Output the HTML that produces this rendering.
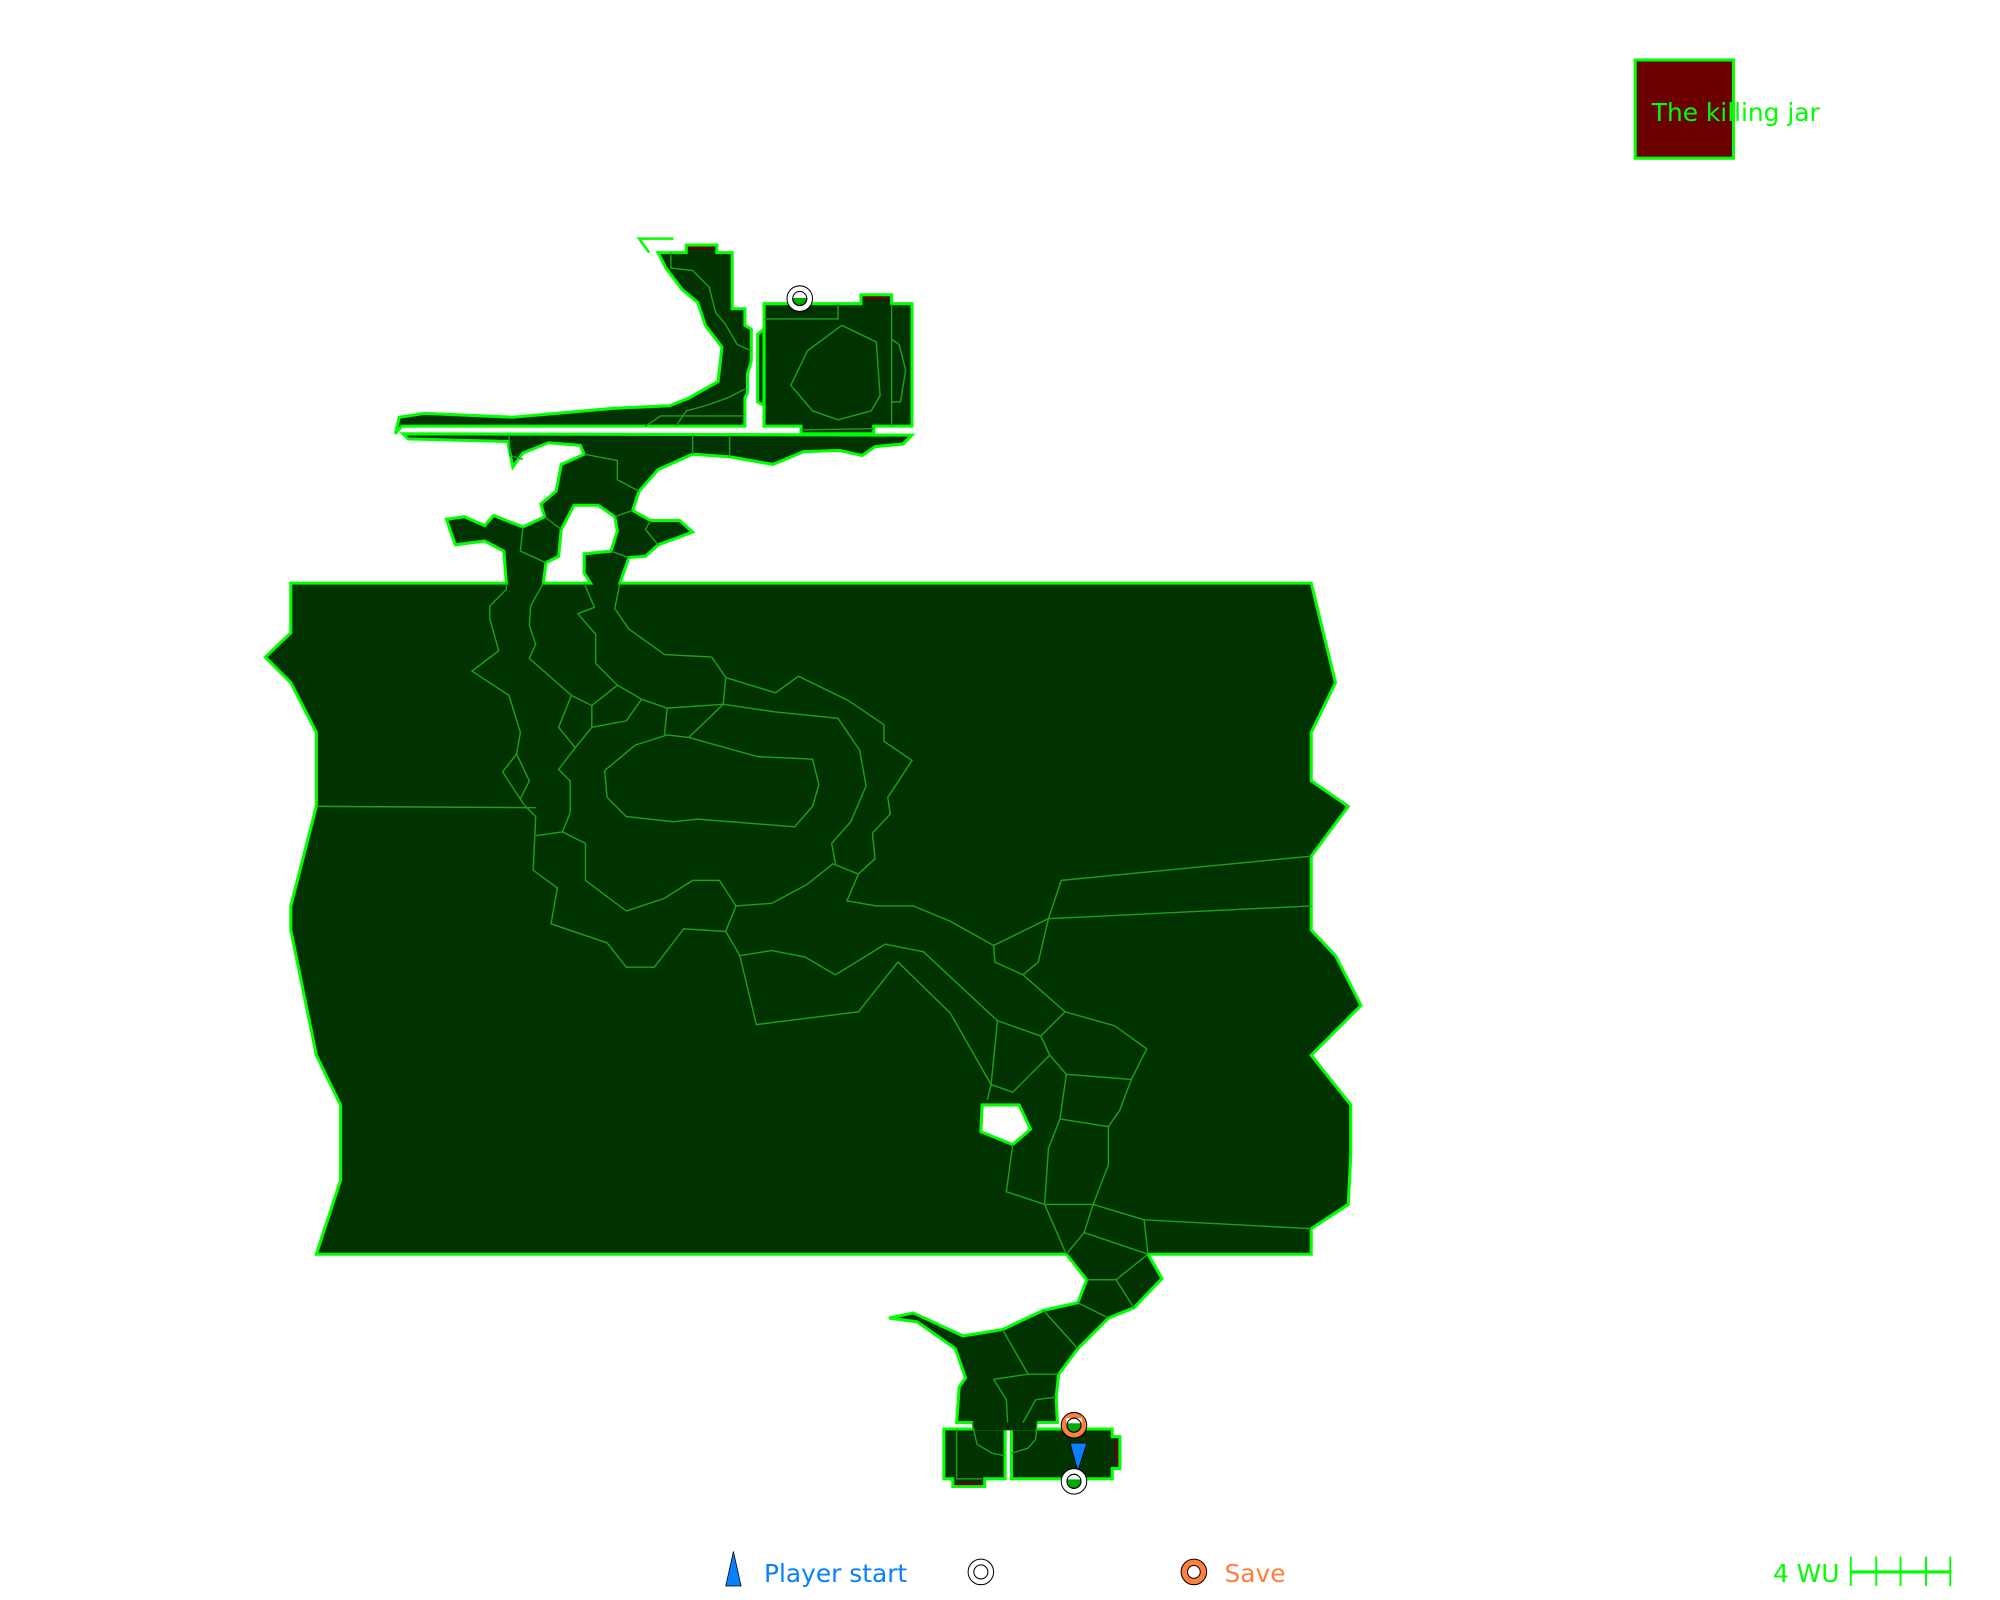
<!DOCTYPE html>
<html><head><meta charset="utf-8"><style>html,body{margin:0;padding:0;background:#fff}svg{display:block}</style></head>
<body>
<svg xmlns="http://www.w3.org/2000/svg" width="2000" height="1600" viewBox="0 0 1568 1254" preserveAspectRatio="none" font-family="'DejaVu Sans','Liberation Sans',sans-serif">
<rect width="1568" height="1254" fill="#fff"/>
<g fill="#003300" stroke="#00ff00" stroke-width="2.4" stroke-linejoin="miter">
<polygon points="228,457 397,457 395,432 380,424 357,427 350,407 364,405 380,412 387,404 410,413 427,405 424,395 436,385 440,364 458,356 455,349 430,347 410,355 402,366 398,346 320,344 316,340 715,341 708,348 686,350 676,357 658,353 630,354 606,364 572,358 543,356 516,368 501,385 496,400 510,408 533,408 543,417 516,427 506,436 493,437 486,457 1028,457 1047,535 1028,574 1028,612 1057,632 1028,671 1028,729 1047,749 1067,788 1028,827 1059,866 1059,905 1057,944 1028,963 1028,983 900,983 911,1002 889,1025 869,1033 845,1057 830,1077 828,1095 829,1115 750,1115 752,1087 757,1080 749,1057 719,1036 697,1033 716,1029 755,1047 786,1042 818,1027 845,1021 852,1003 836,983 248,983 267,925 267,866 248,827 228,729 228,710 248,632 248,574 228,535 208,515 228,496"/>
<polygon points="310,340 313,327 333,324 402,327 481,320 525,318 540,312 563,299 566,272 553,255 547,237 535,227 522,210 516,198 538,198 538,192 562,192 562,198 574,198 574,242 584,242 584,255 589,258 589,283 586,293 586,308 584,312 584,334 315,334"/>
<polygon points="599,238 675,238 675,231 699,231 699,238 715,238 715,334 685,334 685,340 628,340 628,334 599,334"/>
<polygon points="594,262 599,258 599,318 594,315"/>
<polygon points="740,1120 788,1120 788,1159 772,1159 772,1165 747,1165 747,1159 740,1159"/>
<polygon points="793,1120 872,1120 872,1126 878,1126 878,1151 872,1151 872,1159 793,1159"/>
</g>
<rect x="763" y="1113" width="50" height="8" fill="#003300"/>
<g fill="#fff" stroke="#00ff00" stroke-width="2.4">
<polygon points="426,457 428,441 438,436 440,415 450,396 469,396 482,405 484,416 479,432 458,434 458,449 463,457"/>
<polygon points="770,866 799,866 808,885 794,897 769,887"/>
</g>
<polyline points="528,187 501,187 509,198" fill="none" stroke="#00ff00" stroke-width="2"/>
<g fill="#6b0000">
<rect x="540" y="193.5" width="20" height="2"/>
<rect x="677" y="232.5" width="20" height="2"/>
<rect x="749" y="1162" width="21" height="2"/>
<rect x="874.5" y="1129" width="2" height="20"/>
</g>
<g fill="none" stroke="#1f9f1f" stroke-width="1.1">
<polyline points="248,632 420,633"/>
<polyline points="426,457 416,475 415,490 420,505 415,516 448,545 464,553 484,537 467,520 467,497 453,481 466,476 458,457"/>
<polyline points="397,457 397,462 384,475 384,485 391,510 370,526 399,545 408,574 405,591 394,605 411,631 420,640 418,682 437,696 432,724 476,739 491,758 513,758 536,728 569,730 580,749 605,745 631,750 655,764 694,740 724,746 782,800 777,850"/>
<polyline points="569,730 577,710 605,708 633,693 653,677 673,685 686,673 684,653 698,638 696,625 715,596 693,581 693,568 665,549 626,530 608,543 569,531 558,515 521,513 493,493 482,477 486,457"/>
<polygon points="474,604 498,584 523,576 540,578 594,593 637,595 642,615 637,632 623,648 547,642 528,644 491,640 476,625"/>
<polyline points="420,655 441,652 459,661 459,690 491,714 521,704 543,690 564,690 577,710"/>
<polyline points="441,652 447,637 447,612 438,603 451,586 464,570 491,565 503,548 523,555 567,552 608,558 657,563 674,588 679,616 667,644 652,661 655,677"/>
<polyline points="405,591 415,612 408,626"/>
<polyline points="448,545 438,570 451,586"/>
<polyline points="464,553 464,570"/>
<polyline points="484,537 503,548"/>
<polyline points="523,555 521,576"/>
<polyline points="540,578 567,552 569,531"/>
<polyline points="832,690 1028,671"/>
<polyline points="822,720 1028,710"/>
<polyline points="822,720 832,690"/>
<polyline points="779,741 822,720"/>
<polyline points="779,741 780,754 802,764 814,754 822,720"/>
<polyline points="673,685 664,706 687,710 716,710 745,722 779,741"/>
<polyline points="802,764 835,793 874,804 899,822 887,846 878,870 869,883 869,913 857,944 819,944 789,934 794,897"/>
<polyline points="835,793 816,812 823,827 836,842 887,846"/>
<polyline points="782,800 816,812"/>
<polyline points="823,827 794,856 777,850 774,862"/>
<polyline points="836,842 831,877 822,900 819,944"/>
<polyline points="831,877 869,883"/>
<polyline points="857,944 850,966 900,983"/>
<polyline points="857,944 897,956 900,983"/>
<polyline points="897,956 1028,963"/>
<polyline points="819,944 836,983"/>
<polyline points="850,966 836,983"/>
<polyline points="852,1003 875,1003 900,983"/>
<polyline points="875,1003 889,1025"/>
<polyline points="845,1021 869,1033"/>
<polyline points="818,1027 845,1057"/>
<polyline points="786,1042 806,1077 830,1077"/>
<polyline points="779,1081 806,1077"/>
<polyline points="779,1081 789,1097 790,1115"/>
<polyline points="812,1097 828,1095"/>
<polyline points="812,1097 802,1115"/>
<polyline points="580,749 593,803 673,793 704,754 745,794 777,850"/>
<polyline points="750,1120 750,1159 770,1159"/>
<polyline points="762,1115 766,1132 778,1139 788,1141"/>
<polyline points="793,1139 806,1135 812,1128 813,1115"/>
<polygon points="620,302 633,275 660,255 687,268 690,310 683,322 657,329 637,322"/>
<polyline points="599,250 657,250 657,238"/>
<polyline points="699,238 699,334"/>
<polyline points="699,266 705,270 710,290 706,315 699,315"/>
<polyline points="628,337 685,336"/>
<polyline points="526,198 526,210 543,212 556,225 561,245 568,253 578,270 589,275"/>
<polyline points="506,334 518,326 584,326"/>
<polyline points="530,334 538,322 553,318 570,312 584,305"/>
<polyline points="399,341 400,357 410,360"/>
<polyline points="543,341 543,356"/>
<polyline points="572,341 572,358"/>
<polyline points="458,356 484,361 484,376 501,385"/>
<polyline points="410,413 408,432 428,441"/>
<polyline points="427,405 440,415"/>
<polyline points="482,405 496,400"/>
<polyline points="479,432 493,437"/>
<polyline points="510,408 506,415 516,427"/>
</g>
<g>
<circle cx="627" cy="234" r="10" fill="#fff" stroke="#000" stroke-width="0.8"/>
<circle cx="627" cy="234" r="5.5" fill="#00aa00" stroke="#000" stroke-width="0.8"/>
<rect x="621" y="228.5" width="12" height="5" fill="#fff"/>
<circle cx="627" cy="234" r="5.5" fill="none" stroke="#000" stroke-width="0.8"/>
<circle cx="842" cy="1117" r="10" fill="#ff7f3f" stroke="#000" stroke-width="0.8"/>
<circle cx="842" cy="1117" r="5.5" fill="#00aa00" stroke="#000" stroke-width="0.8"/>
<rect x="836" y="1111.5" width="12" height="4" fill="#fff"/>
<circle cx="842" cy="1117" r="5.5" fill="none" stroke="#000" stroke-width="0.8"/>
<polygon points="839,1131 852,1131 845,1153" fill="#0a7fff" stroke="#000" stroke-width="0.6"/>
<circle cx="842" cy="1161" r="10" fill="#fff" stroke="#000" stroke-width="0.8"/>
<circle cx="842" cy="1161" r="5.5" fill="#00aa00" stroke="#000" stroke-width="0.8"/>
<rect x="836" y="1155.5" width="12" height="4" fill="#fff"/>
<circle cx="842" cy="1161" r="5.5" fill="none" stroke="#000" stroke-width="0.8"/>
</g>
<rect x="1282" y="47" width="77" height="77" fill="#6b0000" stroke="#00ff00" stroke-width="2.4"/>
<text x="1295" y="95" font-size="19.5" fill="#00ff00">The killing jar</text>
<polygon points="575,1216 569,1243 581,1243" fill="#0a7fff" stroke="#000" stroke-width="0.6"/>
<text x="599" y="1240" font-size="19.5" fill="#0a7fff">Player start</text>
<circle cx="769" cy="1232" r="10" fill="#fff" stroke="#000" stroke-width="0.8"/>
<circle cx="769" cy="1232" r="5.5" fill="#fff" stroke="#000" stroke-width="0.8"/>
<circle cx="936" cy="1232" r="10" fill="#ff7f3f" stroke="#000" stroke-width="0.8"/>
<circle cx="936" cy="1232" r="5" fill="#fff" stroke="#000" stroke-width="0.8"/>
<text x="960" y="1240" font-size="19.5" fill="#ff7f3f">Save</text>
<text x="1390" y="1240" font-size="19.5" fill="#00ff00">4 WU</text>
<g stroke="#00ff00" stroke-width="1.5">
<line x1="1451" y1="1232" x2="1529" y2="1232" stroke-width="2.4"/>
<line x1="1451" y1="1220" x2="1451" y2="1243"/>
<line x1="1471" y1="1220" x2="1471" y2="1243"/>
<line x1="1490" y1="1220" x2="1490" y2="1243"/>
<line x1="1510" y1="1220" x2="1510" y2="1243"/>
<line x1="1529" y1="1220" x2="1529" y2="1243"/>
</g>
</svg>
</body></html>
